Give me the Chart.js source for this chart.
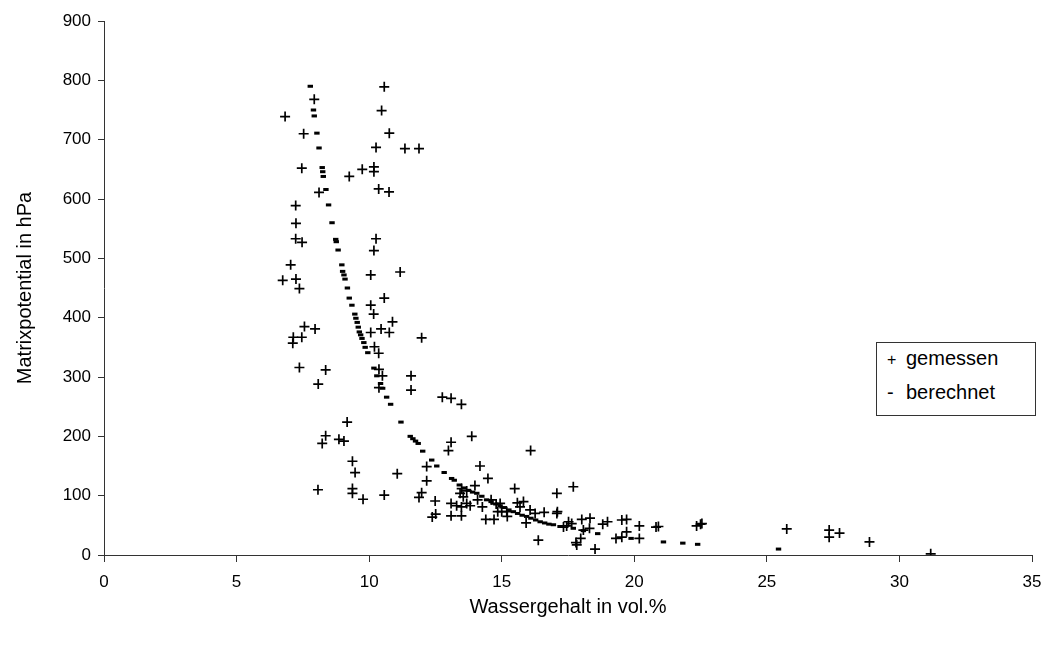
<!DOCTYPE html>
<html>
<head>
<meta charset="utf-8">
<script src="https://cdn.jsdelivr.net/npm/chart.js@4/dist/chart.umd.min.js"></script>
<style>
  body { margin: 0; background: #fff; }
  #wrap { position: relative; width: 1053px; height: 646px; }
  #legend {
    position: absolute; left: 876px; top: 342px; width: 158px; height: 72px;
    border: 1px solid #333; background: #fff;
    font-family: "Liberation Sans", Arial, sans-serif; font-size: 20px; color: #000;
  }
  #legend div { position: absolute; left: 10px; white-space: nowrap; }
  #legend .sym { display: inline-block; width: 19px; }
</style>
</head>
<body>
<div id="wrap">
  <canvas id="myChart" width="1053" height="646"></canvas>
  <div id="legend">
    <div style="top:4px"><span class="sym" style="font-size:16px">+</span>gemessen</div>
    <div style="top:38px"><span class="sym">-</span>berechnet</div>
  </div>
</div>
<script>
// gemessen (measured)
var gemessenX = [10.57, 7.93, 6.83, 10.47, 7.53, 10.76, 10.26, 11.35, 11.88, 7.46, 9.74, 10.18, 10.18, 9.25, 8.11, 10.36, 10.75, 7.23, 7.24, 7.23, 7.47, 10.26, 10.18,
  7.04, 6.74, 7.24, 7.37, 10.06, 11.17, 10.57, 10.06, 10.17, 10.88, 7.56, 7.96, 7.14, 7.46, 7.12, 10.06, 10.45, 10.76, 11.98, 10.2, 10.36, 7.37, 8.36, 8.08, 10.37, 10.5, 10.37, 11.58, 11.58, 9.17, 8.36, 8.23, 8.86, 9.05,
  9.37, 9.47, 8.07, 9.37, 9.37, 9.77, 10.57, 11.06, 12.17, 12.17, 11.98, 11.88,
  12.76, 13.09, 13.48, 13.87, 13.09, 12.99, 16.09, 14.18, 14.48, 13.99, 15.49, 17.08, 12.49, 12.38, 12.51, 13.09, 13.09, 13.48, 13.3, 13.48, 13.68, 13.81, 13.43, 13.55, 13.68, 13.49, 14.09, 14.27, 14.4, 14.71, 14.6, 14.79, 14.94, 14.85, 15.0, 15.19, 15.21, 15.59, 15.69, 15.82, 16.07, 16.26, 15.92, 16.6, 17.08, 16.38,
  17.7, 17.1, 17.52, 17.64, 17.33, 17.45, 18.02, 18.33, 18.31, 18.08, 17.98, 17.83, 17.8, 18.52, 18.81, 18.99, 19.53, 19.71, 19.71, 19.31, 19.53, 20.19, 20.19, 20.82, 20.91, 22.35, 22.5, 22.55, 25.75, 27.35, 27.35, 27.74, 28.87, 31.18];
var gemessenY = [789, 768, 739, 749, 710, 711, 687, 685, 685, 652, 650, 654, 646, 638, 611, 617, 612, 589, 559, 533, 527, 533, 513,
  489, 463, 465, 449, 472, 477, 433, 421, 406, 393, 385, 381, 367, 367, 357, 375, 381, 375, 366, 351, 340, 316, 312, 288, 313, 302, 282, 302, 278, 224, 201, 188, 195, 192,
  158, 139, 110, 112, 104, 94, 101, 137, 149, 125, 105, 97,
  266, 264, 254, 200, 190, 176, 176, 150, 129, 117, 112, 104, 91, 64, 69, 87, 66, 66, 83, 81, 87, 83, 104, 98, 108, 112, 93, 81, 60, 60, 93, 86, 87, 73, 73, 73, 65, 88, 81, 90, 76, 70, 54, 72, 70, 25,
  115, 73, 56, 53, 47, 49, 60, 62, 45, 42, 28, 17, 21, 10, 52, 56, 59, 60, 39, 28, 30, 28, 49, 47, 48, 49, 52, 53, 44, 42, 30, 37, 22, 2];

// berechnet (calculated)
var berechnetX = [7.78, 7.9, 7.93, 8.03, 8.11, 8.23, 8.25, 8.27, 8.37, 8.47, 8.6, 8.74, 8.76, 8.83, 8.97, 9.0, 9.05, 9.09, 9.18, 9.25, 9.35, 9.46, 9.5, 9.55, 9.59, 9.63, 9.68, 9.73, 9.8, 9.85, 9.95, 10.18, 10.29, 10.43, 10.51, 10.66, 10.81, 11.2, 11.55, 11.65, 11.75, 11.85, 12.02, 12.36, 12.55, 12.83, 13.11, 13.21,
  13.4, 13.58, 13.75, 13.9, 14.06, 14.25, 14.43, 14.6, 14.78, 14.94, 15.1, 15.27, 15.44, 15.6, 15.77, 15.94, 16.1, 16.28, 16.45, 16.62, 16.78, 16.95, 17.2, 17.7, 18.08, 18.62, 19.88, 21.1, 21.83, 22.39, 25.44];
var berechnetY = [790, 750, 740, 711, 686, 653, 646, 638, 616, 590, 560, 532, 528, 514, 489, 478, 472, 465, 450, 433, 421, 406, 399, 392, 384, 376, 371, 365, 358, 350, 341, 315, 302, 289, 281, 266, 254, 224, 200, 196, 192, 188, 175, 160, 150, 139, 129, 126,
  118, 113, 109, 106, 104, 99, 93, 90, 86, 83, 80, 76, 73, 70, 67, 65, 62, 59, 56, 54, 52, 51, 48, 45, 41, 36, 28, 22, 20, 18, 10];

var xTicks = [0, 5, 10, 15, 20, 25, 30, 35];
var yTicks = [0, 100, 200, 300, 400, 500, 600, 700, 800, 900];

function toPoints(xs, ys) {
  let pts = [];
  for (let i = 0; i < xs.length; i++) {
    pts.push({ x: xs[i], y: ys[i] });
  }
  return pts;
}

const data = {
  datasets: [
    {
      label: "berechnet",
      data: toPoints(berechnetX, berechnetY),
      pointStyle: "line",
      pointRadius: 2.7,
      borderWidth: 3,
      borderColor: "#000",
      backgroundColor: "#000",
    },
    {
      label: "gemessen",
      data: toPoints(gemessenX, gemessenY),
      pointStyle: "cross",
      pointRadius: 5,
      borderWidth: 1.7,
      borderColor: "#000",
      backgroundColor: "#000",
    },
  ],
};

const tickFont = { family: "'Liberation Sans', Arial, sans-serif", size: 17 };
const titleFont = { family: "'Liberation Sans', Arial, sans-serif", size: 20 };

const config = {
  type: "scatter",
  data: data,
  options: {
    responsive: false,
    animation: false,
    layout: { padding: { left: 0, right: 21, top: 21, bottom: 0 } },
    plugins: { legend: { display: false }, tooltip: { enabled: false } },
    scales: {
      x: {
        type: "linear",
        min: 0,
        max: 35,
        afterFit: function (s) { s.height = 91; },
        afterBuildTicks: function (s) { s.ticks = xTicks.map(v => ({ value: v })); },
        ticks: { color: "#000", font: tickFont, padding: 10 },
        grid: { drawOnChartArea: false, drawTicks: true, tickLength: 7, color: "#333" },
        border: { color: "#333", width: 1 },
        title: { display: true, text: "Wassergehalt in vol.%", color: "#000", font: titleFont, padding: { top: 0, bottom: 27 } },
      },
      y: {
        min: 0,
        max: 900,
        afterFit: function (s) { s.width = 104; },
        afterBuildTicks: function (s) { s.ticks = yTicks.map(v => ({ value: v })); },
        ticks: { color: "#000", font: tickFont, padding: 7 },
        grid: { drawOnChartArea: false, drawTicks: true, tickLength: 6, color: "#333" },
        border: { color: "#333", width: 1 },
        title: { display: true, text: "Matrixpotential in hPa", color: "#000", font: titleFont, padding: { top: 13, bottom: 0 } },
      },
    },
  },
};

const myChart = new Chart(document.getElementById("myChart"), config);
</script>
</body>
</html>
